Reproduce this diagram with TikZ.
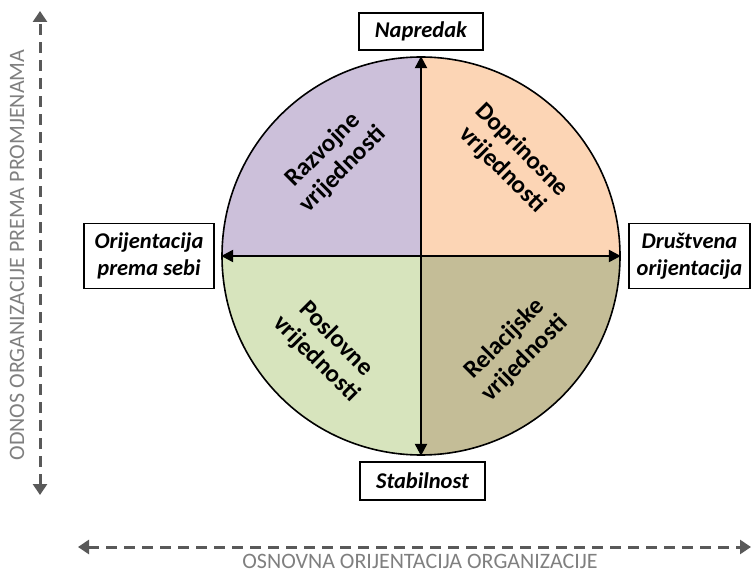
\documentclass[tikz,border=0pt]{standalone}
\usepackage{fontspec}
\setmainfont{Carlito}
\usetikzlibrary{arrows.meta}
\definecolor{qlav}{HTML}{CCC0DA}
\definecolor{qpeach}{HTML}{FCD5B5}
\definecolor{qgreen}{HTML}{D7E4BD}
\definecolor{qtan}{HTML}{C4BD97}
\definecolor{axisgray}{HTML}{595959}
\definecolor{axistext}{HTML}{7F7F7F}
\tikzset{
  labelbox/.style={draw=black, line width=1.6pt, fill=white, inner sep=0pt,
    align=center, font=\fontsize{22.5}{27}\selectfont\bfseries\itshape},
  quadtext/.style={align=center, font=\fontsize{25}{28}\selectfont\bfseries},
  innerarrow/.style={line width=2.4pt, {Triangle[length=12pt,width=12pt]}-{Triangle[length=12pt,width=12pt]}},
  axisarrow/.style={axisgray, line width=3pt, dash pattern=on 11pt off 7pt,
    {Triangle[length=11pt,width=14pt]}-{Triangle[length=11pt,width=14pt]}},
  axislabel/.style={axistext, font=\fontsize{22}{26}\selectfont}
}
\begin{document}
\begin{tikzpicture}[x=1pt,y=1pt]
  \useasboundingbox (0,0) rectangle (751,573);
  \def\R{199}
  \coordinate (c) at (421,317);

  % four quadrants of the circle
  \fill[qlav]   (c) -- ++(0,\R) arc[start angle=90, end angle=180, radius=\R] -- cycle;
  \fill[qpeach] (c) -- ++(\R,0) arc[start angle=0, end angle=90, radius=\R] -- cycle;
  \fill[qgreen] (c) -- ++(-\R,0) arc[start angle=180, end angle=270, radius=\R] -- cycle;
  \fill[qtan]   (c) -- ++(0,-\R) arc[start angle=270, end angle=360, radius=\R] -- cycle;
  \node[circle, draw=black, line width=1.6pt, minimum size=398pt, inner sep=0pt] (circ) at (c) {};

  % axes inside the circle
  \draw[innerarrow] (circ.north) -- (circ.south);
  \draw[innerarrow] (circ.west) -- (circ.east);

  % quadrant labels
  \node[quadtext, rotate=45]  (razvojne)   at (333,413) {Razvojne\\vrijednosti};
  \node[quadtext, rotate=-45] (doprinosne) at (512,413) {Doprinosne\\vrijednosti};
  \node[quadtext, rotate=-45] (poslovne)   at (326,224) {Poslovne\\vrijednosti};
  \node[quadtext, rotate=45]  (relacijske) at (515,224) {Relacijske\\vrijednosti};

  % end labels
  \node[labelbox, minimum width=124pt, minimum height=37pt] (napredak) at (421,541.5) {Napredak};
  \node[labelbox, minimum width=125pt, minimum height=38pt] (stabilnost) at (422.5,92) {Stabilnost};
  \node[labelbox, minimum width=130pt, minimum height=65pt] (sebi) at (149,317) {Orijentacija\\prema sebi};
  \node[labelbox, minimum width=121pt, minimum height=65pt] (drustvena) at (689.5,317) {Društvena\\orijentacija};

  % outer axes
  \coordinate (vtop) at (40,562);
  \coordinate (vbot) at (40,78);
  \coordinate (hleft) at (78,26);
  \coordinate (hright) at (751,26);
  \draw[axisarrow] (vbot) -- (vtop);
  \draw[axisarrow] (hleft) -- (hright);
  \node[axislabel, anchor=base, inner sep=0pt] (hlabel) at (420,4.5) {OSNOVNA ORIJENTACIJA ORGANIZACIJE};
  \node[axislabel, rotate=90] (vlabel) at (17,318) {ODNOS ORGANIZACIJE PREMA PROMJENAMA};
\end{tikzpicture}
\end{document}
